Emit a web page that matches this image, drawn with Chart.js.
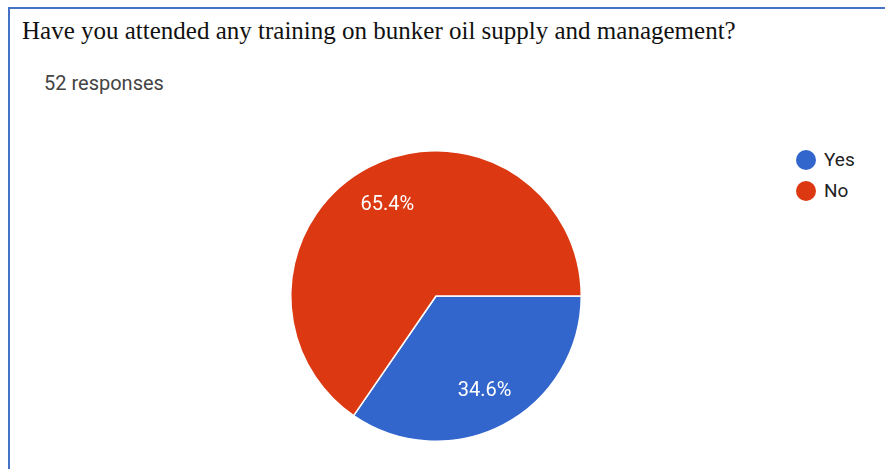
<!DOCTYPE html>
<html>
<head>
<meta charset="utf-8">
<script src="https://cdn.jsdelivr.net/npm/chart.js@4.4.1/dist/chart.umd.min.js"></script>
<style>
  html, body { margin: 0; padding: 0; background: #fff; }
  #wrap { position: relative; width: 885px; height: 469px; overflow: hidden; }
  #frame { position: absolute; left: 8px; top: 7px; width: 900px; height: 500px;
           border-left: 2px solid #4472C4; border-top: 2px solid #4472C4; }
  #title { position: absolute; left: 22px; top: 17px; font-family: "Liberation Serif", serif;
           font-size: 25px; color: #111; white-space: nowrap; }
  #count { position: absolute; left: 44px; top: 71px; font-family: Roboto, Arial, sans-serif;
           font-size: 20px; color: #444; white-space: nowrap; }
  #legend { position: absolute; left: 796px; top: 144px; font-family: Roboto, Arial, sans-serif;
            font-size: 19px; color: #222; }
  .item { display: flex; align-items: center; height: 31px; }
  .dot { width: 20px; height: 20px; border-radius: 50%; margin-right: 8px; }
  canvas { position: absolute; left: 0; top: 0; }
</style>
</head>
<body>
<div id="wrap">
  <div id="frame"></div>
  <div id="title">Have you attended any training on bunker oil supply and management?</div>
  <div id="count">52 responses</div>
  <div id="legend"></div>
  <canvas id="pieChart" width="885" height="469"></canvas>
</div>
<script>
const answers = ["Yes", "No"];
const shares = [34.6, 65.4];
const colors = ["#3366CC", "#DC3912"];

// legend on the right
const legend = document.getElementById("legend");
answers.forEach((a, i) => {
  const row = document.createElement("div");
  row.className = "item";
  row.innerHTML = '<div class="dot" style="background:' + colors[i] + '"></div>' + a;
  legend.appendChild(row);
});

// percentage text inside each slice
const sliceLabels = {
  id: "sliceLabels",
  afterDatasetsDraw(chart) {
    const ctx = chart.ctx;
    const meta = chart.getDatasetMeta(0);
    ctx.save();
    ctx.fillStyle = "#fff";
    ctx.font = "20px Roboto, Arial, sans-serif";
    ctx.textAlign = "center";
    ctx.textBaseline = "middle";
    meta.data.forEach((arc, i) => {
      const mid = (arc.startAngle + arc.endAngle) / 2;
      const r = arc.outerRadius * 0.72;
      ctx.fillText(shares[i].toFixed(1) + "%", arc.x + Math.cos(mid) * r, arc.y + Math.sin(mid) * r + 2);
    });
    ctx.restore();
  }
};

new Chart(document.getElementById("pieChart"), {
  type: "pie",
  data: {
    labels: answers,
    datasets: [{
      data: shares,
      backgroundColor: colors,
      borderColor: "#fff",
      borderWidth: 1.5
    }]
  },
  options: {
    responsive: false,
    animation: false,
    rotation: 90,
    layout: { padding: { left: 290, right: 303, top: 150, bottom: 27 } },
    plugins: {
      legend: { display: false },
      tooltip: { enabled: false }
    }
  },
  plugins: [sliceLabels]
});
</script>
</body>
</html>
